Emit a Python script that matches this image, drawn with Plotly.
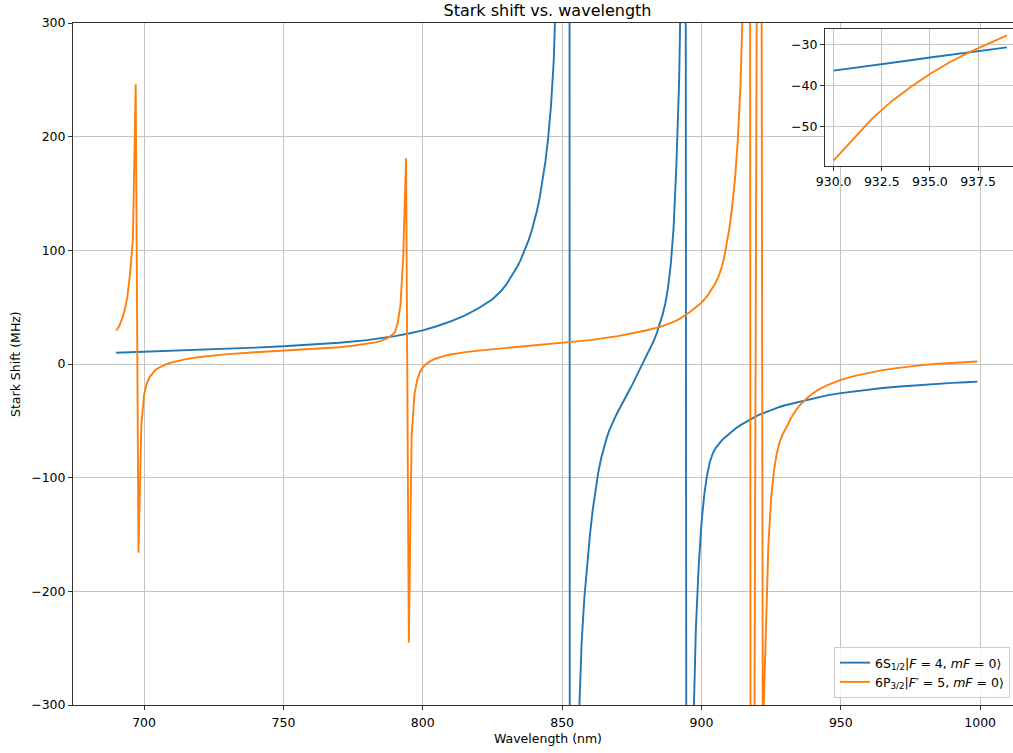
import plotly.graph_objects as go

# ---------------- data ----------------
blue_x = [690, 695, 700, 710, 720, 730, 740, 750, 760, 770, 780, 785, 790, 795, 800, 805, 810, 815,
          820, 825, 828, 830, 832, 834, 835, 836, 837, 838, 839, 840, 841, 842, 843, 844, 845, 846,
          847, 848, 849, 850, 851, 852, 853, 854, 855, 856, 857, 858, 859, 860, 861, 862, 863, 864,
          865, 866, 867, 868, 869, 870, 871, 872, 873, 874, 875, 876, 877, 878, 879, 880, 881, 882,
          883, 884, 885, 886, 887, 888, 889, 890, 891, 892, 893, 894, 895, 896, 897, 898, 899, 900,
          901, 902, 903, 904, 905, 906, 907, 908, 909, 910, 912, 914, 916, 918, 920, 922, 924, 926,
          928, 930, 931, 932, 933, 934, 935, 936, 937, 938, 939, 940, 942, 945, 950, 955, 960, 965,
          970, 975, 980, 985, 990, 995, 999]
blue_y = [9.9, 10.3, 10.7, 11.5, 12.4, 13.3, 14.4, 15.6, 17.0, 18.7, 21.0, 22.6, 24.5, 26.8, 29.6,
          33.2, 37.5, 42.5, 49.0, 57.0, 64.0, 70.0, 77.5, 86.0, 91.0, 96.5, 102.5, 109.0, 116.5,
          125.0, 135.0, 147.0, 161.0, 178.0, 199.0, 227.0, 267.0, 326.0, 430.0, 610.0, 1000.0,
          4700.0, -2000.0, -850.0, -500.0, -315.0, -245.0, -205.0, -175.0, -150.0, -128.0, -110.0,
          -95.0, -83.0, -73.0, -65.0, -58.0, -52.0, -47.0, -42.0, -37.0, -32.5, -28.0, -23.5, -19.0,
          -14.0, -9.5, -5.0, 0.0, 5.0, 10.0, 15.5, 21.0, 27.5, 35.0, 43.0, 53.0, 67.0, 88.0, 120.0,
          175.0, 250.0, 400.0, 1500.0, -1830.0, -700.0, -330.0, -232.0, -178.0, -140.0, -115.0,
          -98.0, -86.5, -79.0, -74.2, -70.8, -68.0, -65.5, -63.2, -61.0, -57.2, -53.8, -50.8, -48.2,
          -45.5, -43.4, -41.3, -39.5, -37.8, -36.3, -35.7, -35.05, -34.4, -33.75, -33.1, -32.5,
          -31.85, -31.2, -30.6, -30.05, -29.0, -27.6, -25.6, -23.9, -22.4, -21.1, -20.0, -19.0,
          -18.1, -17.3, -16.6, -16.0, -15.5]

orange_x = [690, 691, 692, 693, 694, 695, 696, 697, 698, 699, 700, 701, 702, 703, 704, 705, 706,
            708, 710, 712, 715, 720, 725, 730, 740, 750, 760, 770, 775, 780, 783, 785, 787, 789, 790,
            791, 792, 793, 794, 795, 796, 797, 798, 799, 800, 801, 802, 804, 806, 808, 810, 813, 816,
            820, 825, 830, 840, 850, 860, 870, 875, 880, 885, 888, 890, 892, 894, 896, 898, 900, 902,
            904, 905, 906, 907, 908, 909, 910, 911, 912, 913, 914, 915, 916, 917, 918, 919, 920, 921,
            922, 923, 924, 925, 926, 927, 928, 929, 930, 931, 932, 933, 934, 935, 936, 937, 938, 939,
            940, 942, 945, 950, 955, 960, 965, 970, 975, 980, 985, 990, 995, 999]
orange_y = [29.5, 33.0, 39.0, 47.0, 59.0, 80.0, 110.0, 246.0, -166.0, -55.0, -27.0, -17.0, -11.5,
            -8.0, -5.5, -3.7, -2.3, -0.2, 1.5, 2.8, 4.3, 6.2, 7.6, 8.7, 10.3, 11.7, 13.1, 14.8, 16.0,
            17.6, 19.0, 20.3, 22.3, 25.5, 28.0, 36.0, 52.0, 95.0, 181.0, -245.0, -64.0, -27.0, -14.0,
            -7.0, -3.0, -0.5, 1.5, 4.2, 6.0, 7.3, 8.4, 9.7, 10.7, 11.8, 13.0, 14.1, 16.0, 18.5, 21.0,
            24.5, 26.8, 29.5, 32.5, 35.0, 37.0, 39.5, 42.5, 46.0, 50.0, 54.0, 59.5, 66.5, 71.0, 76.5,
            83.0, 92.0, 104.0, 119.0, 138.0, 162.0, 195.0, 245.0, 330.0, 600.0, 2500.0, -2200.0,
            -330.0, 370.0, 1230.0, -330.0, -235.0, -160.0, -118.0, -94.0, -79.0, -69.0, -62.5, -58.2,
            -53.2, -48.0, -43.8, -40.3, -37.1, -34.3, -31.9, -29.7, -27.7, -25.8, -22.5, -18.8,
            -14.0, -10.5, -7.7, -5.4, -3.6, -2.0, -0.8, 0.2, 1.0, 1.7, 2.2]

x_ticks = [700, 750, 800, 850, 900, 950, 1000]
y_ticks = [-300, -200, -100, 0, 100, 200, 300]
y_tick_text = ["\u2212300", "\u2212200", "\u2212100", "0", "100", "200", "300"]
inset_x_ticks = [930.0, 932.5, 935.0, 937.5]
inset_x_text = ["930.0", "932.5", "935.0", "937.5"]
inset_y_ticks = [-50, -40, -30]
inset_y_text = ["\u221250", "\u221240", "\u221230"]
inset_lo, inset_hi = 930, 939

names = ["6S<sub>1/2</sub>|<i>F</i> = 4, <i>mF</i> = 0\u27e9",
         "6P<sub>3/2</sub>|<i>F\u2032</i> = 5, <i>mF</i> = 0\u27e9"]
colors = ["#1f77b4", "#ff7f0e"]

# ---------------- figure ----------------
FONT = "DejaVu Sans"
W, H = 1013, 753
ML, MR, MT, MB = 73, 0, 23, 48
fig = go.Figure()

series = [(blue_x, blue_y), (orange_x, orange_y)]
for (xs, ys), nm, c in zip(series, names, colors):
    fig.add_trace(go.Scatter(x=xs, y=ys, mode="lines", name=nm,
                             line=dict(color=c, width=1.9), xaxis="x", yaxis="y"))
for (xs, ys), nm, c in zip(series, names, colors):
    ix = [x for x in xs if inset_lo <= x <= inset_hi]
    iy = [y for x, y in zip(xs, ys) if inset_lo <= x <= inset_hi]
    fig.add_trace(go.Scatter(x=ix, y=iy, mode="lines", name=nm, showlegend=False,
                             line=dict(color=c, width=1.9), xaxis="x2", yaxis="y2"))

pw = W - ML - MR
ph = H - MT - MB
def px2paper_x(px):
    return (px - ML) / pw
def px2paper_y(py):
    return (H - MB - py) / ph

axis_common = dict(showgrid=True, gridcolor="#c4c4c4", gridwidth=1, zeroline=False,
                   showline=True, linecolor="#333333", linewidth=1,
                   ticks="outside", ticklen=4, tickwidth=1, tickcolor="#333333",
                   tickfont=dict(family=FONT, size=12.5, color="black"))

inset_xr = [929.55, 929.55 + (W - 825) / 19.25]
inset_yr = [-59.5, -26.2]

fig.update_layout(
    width=W, height=H,
    margin=dict(l=ML, r=MR, t=MT, b=MB, pad=0),
    paper_bgcolor="white", plot_bgcolor="white",
    font=dict(family=FONT, size=12.5, color="black"),
    title=dict(text="Stark shift vs. wavelength", x=547.5 / W,
               xanchor="center", y=1 - 10.5 / H, yanchor="middle",
               font=dict(family=FONT, size=16, color="black")),
    xaxis=dict(range=[674.5, 674.5 + pw / 2.787], tickvals=x_ticks,
               ticktext=[str(v) for v in x_ticks], mirror=True, ticklabelstandoff=2,
               domain=[0, 1], anchor="y", **axis_common),
    yaxis=dict(range=[-300, 300], tickvals=y_ticks, ticktext=y_tick_text,
               domain=[0, 1], anchor="x", **axis_common),
    xaxis2=dict(range=inset_xr, tickvals=inset_x_ticks, ticktext=inset_x_text, mirror=True,
                domain=[px2paper_x(825), 1.0], anchor="y2", **axis_common),
    yaxis2=dict(range=inset_yr, tickvals=inset_y_ticks, ticktext=inset_y_text,
                domain=[px2paper_y(165.7), px2paper_y(29.3)], anchor="x2", **axis_common),
    legend=dict(x=px2paper_x(1010), xanchor="right", y=px2paper_y(698), yanchor="bottom",
                bgcolor="rgba(255,255,255,0.8)", bordercolor="#cccccc", borderwidth=1,
                font=dict(family=FONT, size=12.5, color="black")),
    showlegend=True,
)

# white background of the inset, hiding the main grid behind it
fig.add_shape(type="rect", xref="x2", yref="y2", x0=inset_xr[0], x1=inset_xr[1],
              y0=inset_yr[0], y1=inset_yr[1], fillcolor="white", line=dict(width=0),
              layer="below")

fig.add_annotation(text="Wavelength (nm)", xref="paper", yref="paper",
                   x=px2paper_x(547.5), y=px2paper_y(738.5), xanchor="center", yanchor="middle",
                   showarrow=False, font=dict(family=FONT, size=12.5, color="black"))
fig.add_annotation(text="Stark Shift (MHz)", xref="paper", yref="paper", textangle=-90,
                   x=px2paper_x(15), y=0.5, xanchor="center", yanchor="middle",
                   showarrow=False, font=dict(family=FONT, size=12.5, color="black"))

fig.write_html("out.html")
